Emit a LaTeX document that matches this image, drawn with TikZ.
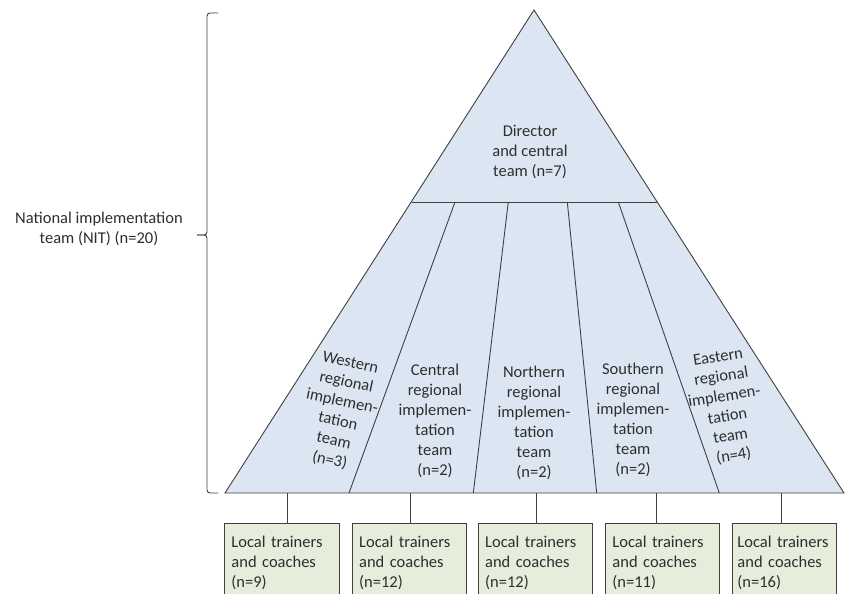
\documentclass[tikz,border=0pt]{standalone}
\usepackage{fontspec}
\setmainfont{Carlito}
\definecolor{triblue}{HTML}{DCE6F2}
\definecolor{boxgreen}{HTML}{E4EEDA}
\definecolor{linegray}{HTML}{404040}
\definecolor{textgray}{HTML}{2E2E2E}
\hyphenpenalty=10000
\begin{document}
\begin{tikzpicture}[x=1pt,y=-1pt,
  line/.style={draw=linegray, line width=0.9pt},
  lbl/.style={text=textgray, font=\fontsize{16.5}{20}\selectfont, align=center, inner sep=0pt},
  lbox/.style={line, fill=boxgreen, text=textgray, font=\fontsize{16.5}{20}\selectfont,
    align=left, anchor=north west, minimum height=78pt, inner xsep=7pt, inner ysep=0pt, text width=#1},
]
\useasboundingbox (0,0) rectangle (846,594);
\clip (0,0) rectangle (846,594);
% triangle
\coordinate (A) at (534,10);
\coordinate (L) at (225,493);
\coordinate (R) at (844,493);
\coordinate (ML) at (411.5,202);
\coordinate (MR) at (657.5,202);
\coordinate (t1) at (455,202);
\coordinate (t2) at (508.3,202);
\coordinate (t3) at (567.3,202);
\coordinate (t4) at (618.3,202);
\coordinate (d1) at (349,493);
\coordinate (d2) at (473.3,493);
\coordinate (d3) at (596.7,493);
\coordinate (d4) at (719.3,493);
\fill[triblue] (A) -- (L) -- (R) -- cycle;
\draw[line] (A) -- (L) -- (R) -- cycle;
\draw[line] (ML) -- (MR);
\draw[line] (t1) -- (d1);
\draw[line] (t2) -- (d2);
\draw[line] (t3) -- (d3);
\draw[line] (t4) -- (d4);
% labels inside triangle
\node[lbl] (dir) at (530,152) {Director\\and central\\team (n=7)};
\node[lbl, rotate=-12] (west) at (340,412) {Western\\regional\\implemen-\\tation\\team\\(n=3)};
\node[lbl] (cent) at (435,421) {Central\\regional\\implemen-\\tation\\team\\(n=2)};
\node[lbl] (north) at (534,423) {Northern\\regional\\implemen-\\tation\\team\\(n=2)};
\node[lbl] (south) at (633,420) {Southern\\regional\\implemen-\\tation\\team\\(n=2)};
\node[lbl, rotate=9] (east) at (726,407) {Eastern\\regional\\implemen-\\tation\\team\\(n=4)};
% brace and NIT label
\draw[line, rounded corners=3pt] (218,13) -- (207,13) -- (207,235) -- (197,235);
\draw[line, rounded corners=3pt] (197,235) -- (207,235) -- (207,493) -- (218,493);
\node[lbl, align=center] (nit) at (99,229) {National implementation\\team (NIT) (n=20)};
% boxes
\node[lbox=100.5pt] (b1) at (224,523.3) {Local trainers\\and coaches\\(n=9)};
\node[lbox=100pt] (b2) at (351.7,523.3) {Local trainers\\and coaches\\(n=12)};
\node[lbox=100.6pt] (b3) at (477.7,523.3) {Local trainers\\and coaches\\(n=12)};
\node[lbox=100.3pt] (b4) at (605,523.3) {Local trainers\\and coaches\\(n=11)};
\node[lbox=94pt, inner xsep=5pt] (b5) at (732,523.3) {Local trainers\\and coaches\\(n=16)};
% connectors
\coordinate (c1) at (287,493);
\coordinate (c2) at (410,493);
\coordinate (c3) at (536.7,493);
\coordinate (c4) at (656.7,493);
\coordinate (c5) at (781.3,493);
\draw[line] (c1) -- (c1 |- b1.north);
\draw[line] (c2) -- (c2 |- b2.north);
\draw[line] (c3) -- (c3 |- b3.north);
\draw[line] (c4) -- (c4 |- b4.north);
\draw[line] (c5) -- (c5 |- b5.north);
\end{tikzpicture}
\end{document}
